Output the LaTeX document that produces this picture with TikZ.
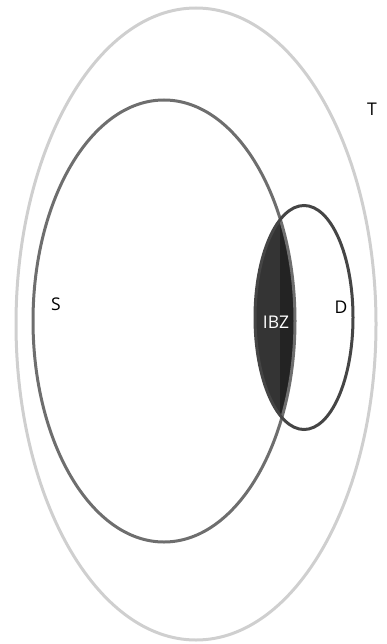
\documentclass[tikz,border=0pt]{standalone}
\usepackage{fontspec}
\setmainfont{Open Sans}
\usepackage{tikz}
\usetikzlibrary{positioning}

\definecolor{tgray}{HTML}{CFCFCF}
\definecolor{sgray}{HTML}{6E6E6E}
\definecolor{dgray}{HTML}{454545}
\definecolor{ibzlight}{HTML}{343434}
\definecolor{ibzdark}{HTML}{232323}

\begin{document}
\begin{tikzpicture}[
x=1pt, y=-1pt,
every node/.style={font=\fontsize{17.5}{20}\selectfont},
setline/.style={line width=3pt},
label/.style={text=black},
ibzlabel/.style={text=white}
]
\useasboundingbox (0,0) rectangle (387,644);

% centres of the sets
\coordinate (tc) at (196,324);
\coordinate (sc) at (164,321);
\coordinate (dc) at (304,317.5);

% IBZ = S cap D
\begin{scope}
\clip (sc) ellipse [x radius=131, y radius=221];
\fill[ibzlight] (dc) ellipse [x radius=49, y radius=112];
\clip (280,0) rectangle (387,644);
\fill[ibzdark] (dc) ellipse [x radius=49, y radius=112];
\end{scope}

\draw[setline, tgray] (tc) ellipse [x radius=180, y radius=316];
\draw[setline, sgray] (sc) ellipse [x radius=131, y radius=221];
\draw[setline, dgray] (dc) ellipse [x radius=49, y radius=112];

\node (T) [label] at (372,109) {T};
\node (S) [label] at (56,304) {S};
\node (D) [label] at (341,307) {D};
\node (IBZ) [ibzlabel] at (276,322) {IBZ};

\end{tikzpicture}
\end{document}
